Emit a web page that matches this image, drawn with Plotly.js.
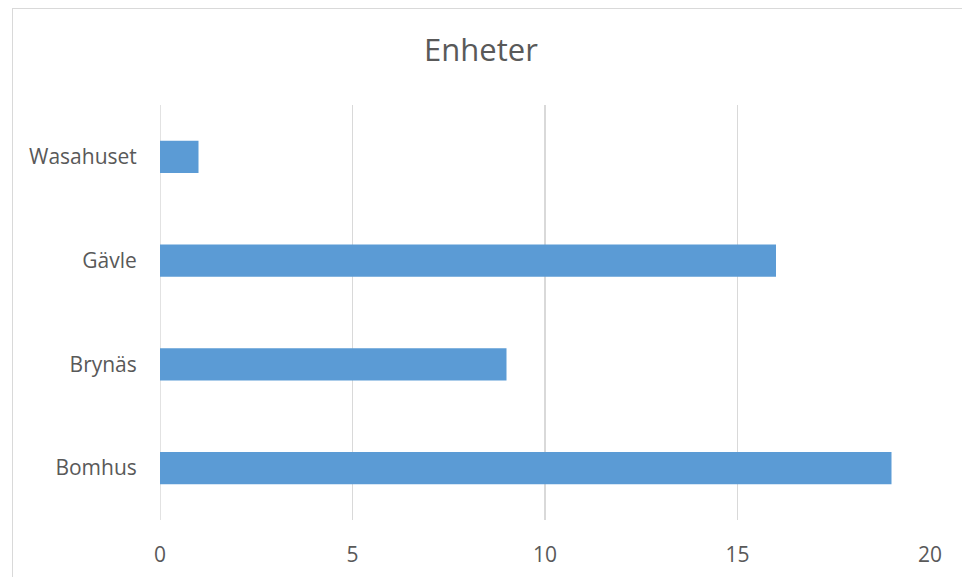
<!DOCTYPE html>
<html>
<head>
<meta charset="utf-8">
<script src="https://cdn.plot.ly/plotly-3.0.1.min.js"></script>
<style>
html,body{margin:0;padding:0;background:#fff;}
#wrap{position:relative;width:962px;height:577px;}
#chart{width:962px;height:577px;}
#frame{position:absolute;left:12px;top:8px;width:960px;height:600px;border-left:1.5px solid #d9d9d9;border-top:1.5px solid #d9d9d9;pointer-events:none;}
</style>
</head>
<body>
<div id="wrap"><div id="chart"></div><div id="frame"></div></div>
<script>
const categories = ['Bomhus', 'Brynäs', 'Gävle', 'Wasahuset'];
const enheter = [19, 9, 16, 1];
const xTicks = [0, 5, 10, 15, 20];
const chartTitle = 'Enheter';

const fontFam = '"Open Sans", "Noto Sans", sans-serif';
Plotly.newPlot('chart', [{
  type: 'bar',
  orientation: 'h',
  y: categories,
  x: enheter,
  marker: {color: '#5B9BD5'},
  width: 0.31,
  hoverinfo: 'x+y'
}], {
  width: 962, height: 577,
  margin: {l: 160, r: 32, t: 105, b: 57},
  paper_bgcolor: 'rgba(0,0,0,0)',
  plot_bgcolor: 'rgba(0,0,0,0)',
  title: {text: chartTitle, x: 0.5, xanchor: 'center', y: 0.913, yanchor: 'middle',
          font: {family: fontFam, size: 31, color: '#595959'}},
  xaxis: {range: [0, 20], tickvals: xTicks, showgrid: true, gridcolor: '#d9d9d9', gridwidth: 1.5,
          zeroline: false, showline: false, ticks: 'outside', ticklen: 16, tickcolor: 'rgba(0,0,0,0)',
          tickfont: {family: fontFam, size: 21, color: '#595959'}, fixedrange: true},
  yaxis: {type: 'category', showgrid: false, zeroline: false, showline: false,
          ticks: 'outside', ticklen: 18, tickcolor: 'rgba(0,0,0,0)',
          tickfont: {family: fontFam, size: 21, color: '#595959'}, fixedrange: true},
  shapes: [{type: 'line', xref: 'x', yref: 'paper', x0: 0, x1: 0, y0: 0, y1: 1,
            line: {color: '#d9d9d9', width: 1.5}, layer: 'below'}],
  showlegend: false
}, {displayModeBar: false, staticPlot: true});
</script>
</body>
</html>
